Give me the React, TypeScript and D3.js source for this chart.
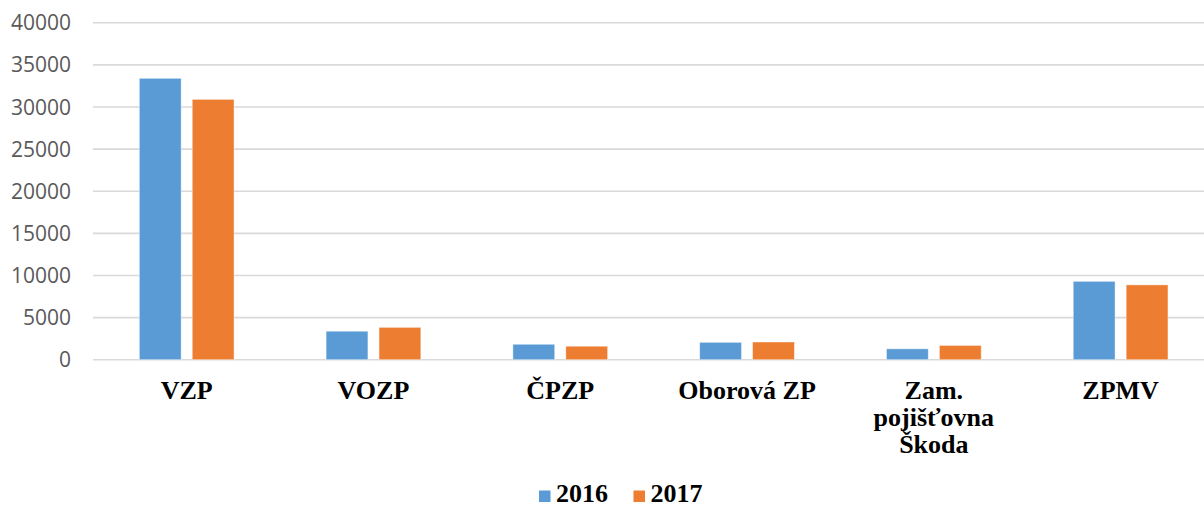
import React from "react";
import * as d3 from "d3";

// insurers (x categories); "\n" splits wrapped labels
const categories = ["VZP", "VOZP", "ČPZP", "Oborová ZP", "Zam.\npojišťovna\nŠkoda", "ZPMV"];
const years = ["2016", "2017"];
const values2016 = [33400, 3380, 1830, 2060, 1290, 9300];
const values2017 = [30900, 3840, 1600, 2100, 1690, 8880];
const yTicks = [0, 5000, 10000, 15000, 20000, 25000, 30000, 35000, 40000];

const colors = { "2016": "#5B9BD5", "2017": "#ED7D31" };

const W = 1204;
const H = 507;

const App = () => {
  const series = { "2016": values2016, "2017": values2017 };

  // outer band for insurers
  const x0 = d3.scaleBand().domain(categories).range([93.3, 1214]).paddingInner(0).paddingOuter(0);
  // inner band for the two years
  const x1 = d3
    .scaleBand()
    .domain(years)
    .range([0, x0.bandwidth()])
    .paddingInner(0.21)
    .paddingOuter(0.87);

  const y = d3.scaleLinear().domain([0, 40000]).range([359.7, 22.7]);

  const labelFont = "'Liberation Serif', 'Times New Roman', serif";

  return (
    <svg width={W} height={H} style={{ position: "absolute", left: 0, top: 0, background: "#fff" }}>
      {/* gridlines */}
      {yTicks.map(t => (
        <line key={"g" + t} x1={93} x2={W} y1={y(t)} y2={y(t)} stroke="#d9d9d9" strokeWidth={1.6} />
      ))}
      {/* y axis labels */}
      {yTicks.map(t => (
        <text
          key={"t" + t}
          x={71}
          y={y(t)}
          dy="0.36em"
          textAnchor="end"
          fontFamily="'Open Sans', sans-serif"
          fontSize={21}
          fill="#595959"
        >
          {t}
        </text>
      ))}
      {/* bars */}
      {categories.map((c, i) => (
        <g key={c} transform={`translate(${x0(c)},0)`}>
          {years.map(yr => (
            <rect
              key={yr}
              x={x1(yr)}
              y={y(series[yr][i])}
              width={x1.bandwidth()}
              height={y(0) - y(series[yr][i])}
              fill={colors[yr]}
              stroke="#ffffff"
              strokeOpacity={0.5}
              strokeWidth={0.8}
            />
          ))}
        </g>
      ))}
      {/* category labels */}
      {categories.map(c => (
        <text
          key={"l" + c}
          x={x0(c) + x0.bandwidth() / 2}
          y={399}
          textAnchor="middle"
          fontFamily={labelFont}
          fontWeight="bold"
          fontSize={26}
          fill="#000"
        >
          {c.split("\n").map((line, k) => (
            <tspan key={k} x={x0(c) + x0.bandwidth() / 2} dy={k === 0 ? 0 : 27}>
              {line}
            </tspan>
          ))}
        </text>
      ))}
      {/* legend */}
      {years.map((yr, i) => (
        <g key={"lg" + yr} transform={`translate(${539 + i * 94.5},0)`}>
          <rect x={0} y={490.5} width={11.5} height={11.5} fill={colors[yr]} />
          <text x={17} y={502} fontFamily={labelFont} fontWeight="bold" fontSize={26} fill="#000">
            {yr}
          </text>
        </g>
      ))}
    </svg>
  );
};

export default App;
